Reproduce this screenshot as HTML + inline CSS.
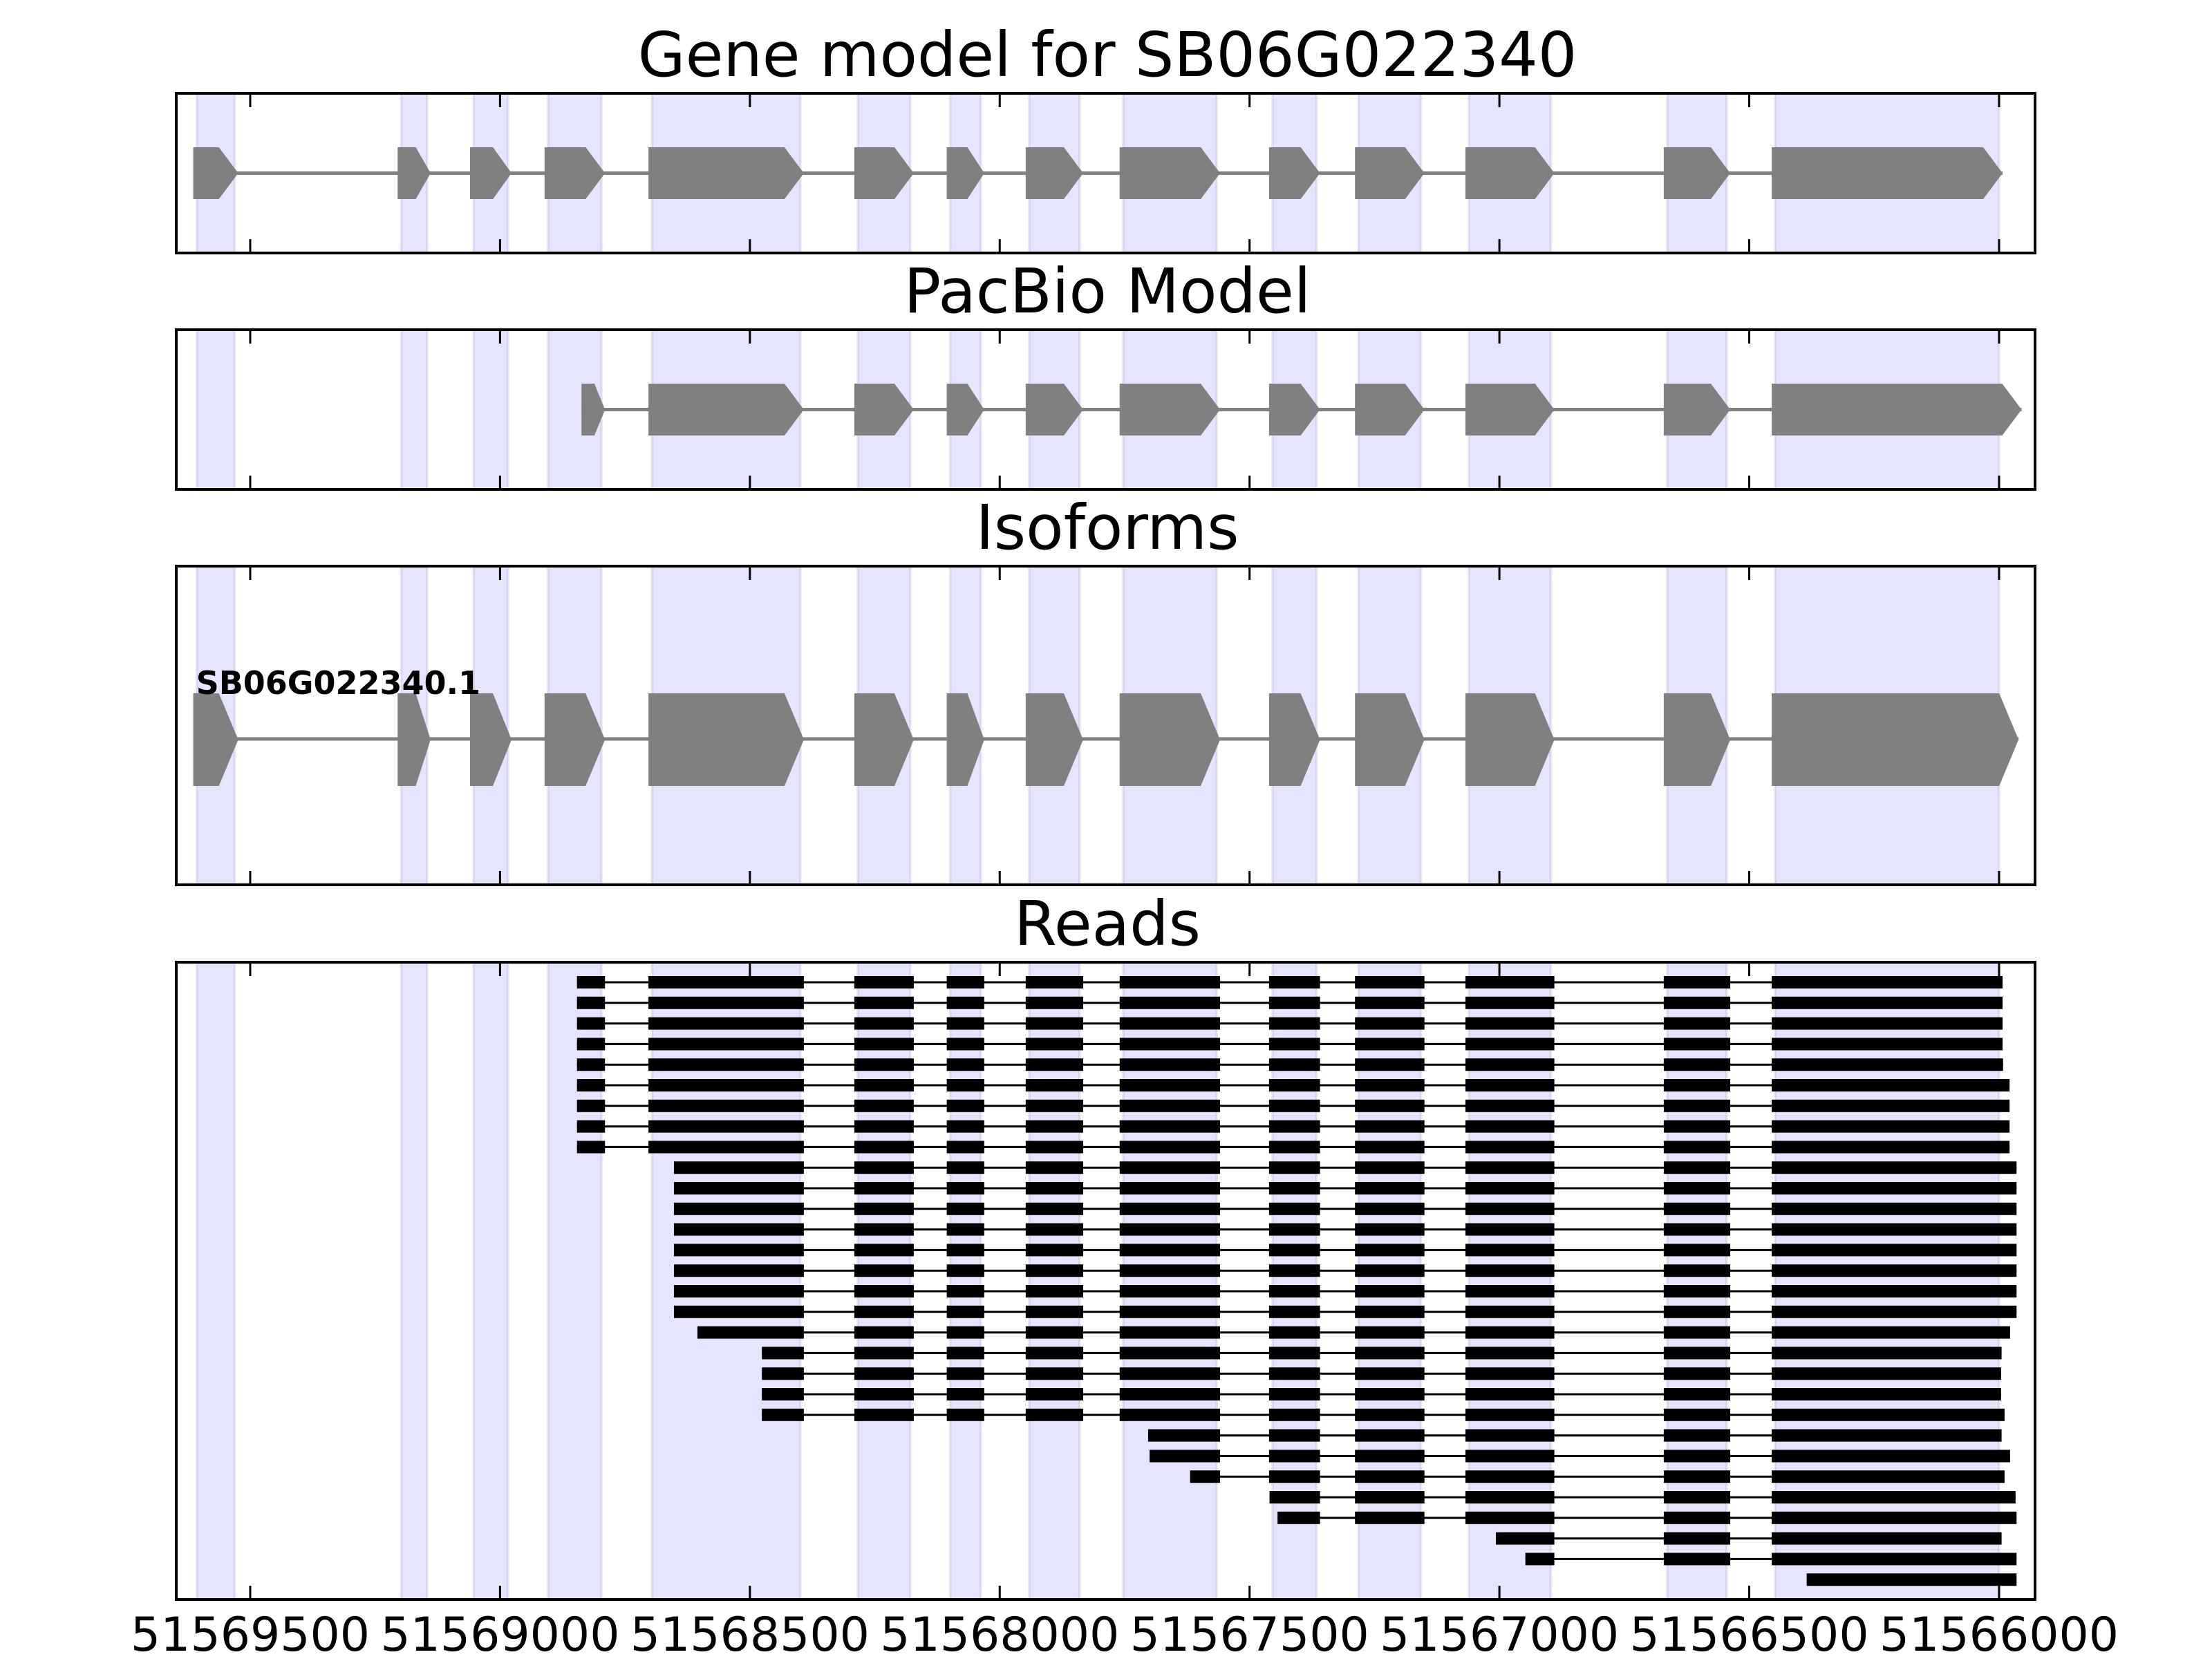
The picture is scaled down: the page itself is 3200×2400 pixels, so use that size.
<!DOCTYPE html>
<html><head><meta charset="utf-8">
<style>
html,body{margin:0;padding:0;background:#fff;}
svg{display:block;font-family:"DejaVu Sans","Liberation Sans",sans-serif;}
</style></head>
<body>
<svg id="chart" xmlns="http://www.w3.org/2000/svg" width="3200" height="2400" viewBox="0 0 3200 2400"></svg>
<script>
// ---- data (genomic coordinates, reversed axis) ----
const geneExonStarts = [51569614,51569205,51569060,51568911,51568703,51568291,51568106,51567948,51567760,51567461,51567289,51567068,51566671,51566455];
const geneExonEnds   = [51569524,51569139,51568977,51568790,51568392,51568172,51568031,51567833,51567559,51567359,51567150,51566890,51566538,51565993];
const pacbioExonStarts = [51568837,51568703,51568291,51568106,51567948,51567760,51567461,51567289,51567068,51566671,51566455];
const pacbioExonEnds   = [51568790,51568392,51568172,51568031,51567833,51567559,51567359,51567150,51566890,51566538,51565955];
const isoformExonStarts = [51569614,51569205,51569060,51568911,51568703,51568291,51568106,51567948,51567760,51567461,51567289,51567068,51566671,51566455];
const isoformExonEnds   = [51569524,51569139,51568977,51568790,51568392,51568172,51568031,51567833,51567559,51567359,51567150,51566890,51566538,51565961];
const isoformName = "SB06G022340.1";
const readStarts = [51568846,51568846,51568846,51568846,51568846,51568846,51568846,51568846,51568846,
  51568652,51568652,51568652,51568652,51568652,51568652,51568652,51568652,
  51568605,51568476,51568476,51568476,51568476,51567703,51567700,51567619,51567460,51567444,51567007,51566948,51566385];
const readEnds = [51565993,51565993,51565993,51565993,51565992,51565979,51565979,51565979,51565979,
  51565965,51565965,51565965,51565965,51565965,51565965,51565965,51565965,
  51565978,51565995,51565996,51565996,51565989,51565995,51565978,51565989,51565967,51565965,51565995,51565965,51565965];
const tickValues = [51569500,51569000,51568500,51568000,51567500,51567000,51566500,51566000];
const tickLabels = ["51569500","51569000","51568500","51568000","51567500","51567000","51566500","51566000"];
const panelTitles = ["Gene model for SB06G022340","PacBio Model","Isoforms","Reads"];

// ---- scales ----
const AX_L = 255, AX_R = 2944;
const DOM_L = 51569648, DOM_R = 51565928;
function xs(v){ return AX_L + (DOM_L - v) * (AX_R - AX_L) / (DOM_L - DOM_R); }
const panels = [{top:135,bot:366},{top:477,bot:708},{top:819,bot:1280},{top:1392,bot:2314}];
function readY(i){ return panels[3].top + 29 + i*29.8; }

const NS = "http://www.w3.org/2000/svg";
const svg = document.getElementById('chart');
function mk(tag, attrs, parent){
  const e = document.createElementNS(NS, tag);
  for (const k in attrs) e.setAttribute(k, attrs[k]);
  (parent||svg).appendChild(e);
  return e;
}

function arrowPath(x0, x1, y0, y1){
  const w = x1 - x0;
  const h = Math.min(28, w*0.45);
  const ym = (y0+y1)/2;
  return `M${x0},${y0} L${x1-h},${y0} L${x1},${ym} L${x1-h},${y1} L${x0},${y1} Z`;
}

panels.forEach((p, pi) => {
  const g = mk('g', {});
  
  
  for (let i=0;i<geneExonStarts.length;i++){
    const x0 = xs(geneExonStarts[i]) + 5, x1 = xs(geneExonEnds[i]) - 5;
    const r = mk('rect', {x:x0, y:p.top, width:x1-x0, height:p.bot-p.top, fill:'#e5e5ff', stroke:'rgba(0,0,90,0.08)', 'stroke-width':4}, g);
    
    
  }
  const t = mk('text', {x:1602, y:p.top-25, 'font-size':89, 'text-anchor':'middle', fill:'#000'}, g);
  t.textContent = panelTitles[pi];
  
  
});

function drawModel(starts, ends, y0, y1, lineY, g, name){
  const xa = xs(starts[0]), xb = xs(ends[ends.length-1]);
  const ln = mk('line', {x1:xa, x2:xb, y1:lineY, y2:lineY, stroke:'#808080', 'stroke-width':5}, g);
  
  
  for (let i=0;i<starts.length;i++){
    const e = mk('path', {d:arrowPath(xs(starts[i]), xs(ends[i]), y0, y1), fill:'#808080'}, g);
    
    
  }
}
const gm = mk('g', {});


drawModel(geneExonStarts, geneExonEnds, 213, 288, 250.5, gm, 'gene-model');
const pb = mk('g', {});


drawModel(pacbioExonStarts, pacbioExonEnds, 555, 630, 592.5, pb, 'pacbio-model');
const iso = mk('g', {});


drawModel(isoformExonStarts, isoformExonEnds, 1003, 1137, 1069, iso, 'isoform');
const lab = mk('text', {x:xs(isoformExonStarts[0])+4, y:1004, 'font-size':46, 'font-weight':'bold', fill:'#000'}, iso);
lab.textContent = isoformName;



// reads
const rg = mk('g', {});


for (let i=0;i<readStarts.length;i++){
  const y = readY(i);
  const rs = readStarts[i], re = readEnds[i];
  const row = mk('g', {}, rg);
  
  
  const ln = mk('line', {x1:xs(rs), x2:xs(re), y1:y, y2:y, stroke:'#000', 'stroke-width':3}, row);
  
  
  let first = true;
  for (let k=0;k<pacbioExonStarts.length;k++){
    const last = k===pacbioExonStarts.length-1;
    let a = Math.min(pacbioExonStarts[k], rs);
    let b = last ? re : Math.max(pacbioExonEnds[k], re);
    if (a <= b) continue;
    if (first){ a = rs; first = false; }
    const x0 = xs(a), x1 = xs(b);
    const r = mk('rect', {x:x0, y:y-9, width:x1-x0, height:18, fill:'#000'}, row);
    
    
  }
}

// frames & ticks
panels.forEach((p, pi) => {
  const f = mk('rect', {x:AX_L, y:p.top, width:AX_R-AX_L, height:p.bot-p.top, fill:'none', stroke:'#000', 'stroke-width':4});
  
  
  tickValues.forEach((v, ti) => {
    const x = xs(v);
    const t1 = mk('line', {x1:x, x2:x, y1:p.top, y2:p.top+20, stroke:'#000', 'stroke-width':3});
    
    
    const t2 = mk('line', {x1:x, x2:x, y1:p.bot-20, y2:p.bot, stroke:'#000', 'stroke-width':3});
    
    
    if (pi === 3){
      const tl = mk('text', {x:x, y:2388, 'font-size':68, 'text-anchor':'middle', fill:'#000'});
      tl.textContent = tickLabels[ti];
      
      
    }
  });
});
</script>
</body></html>
